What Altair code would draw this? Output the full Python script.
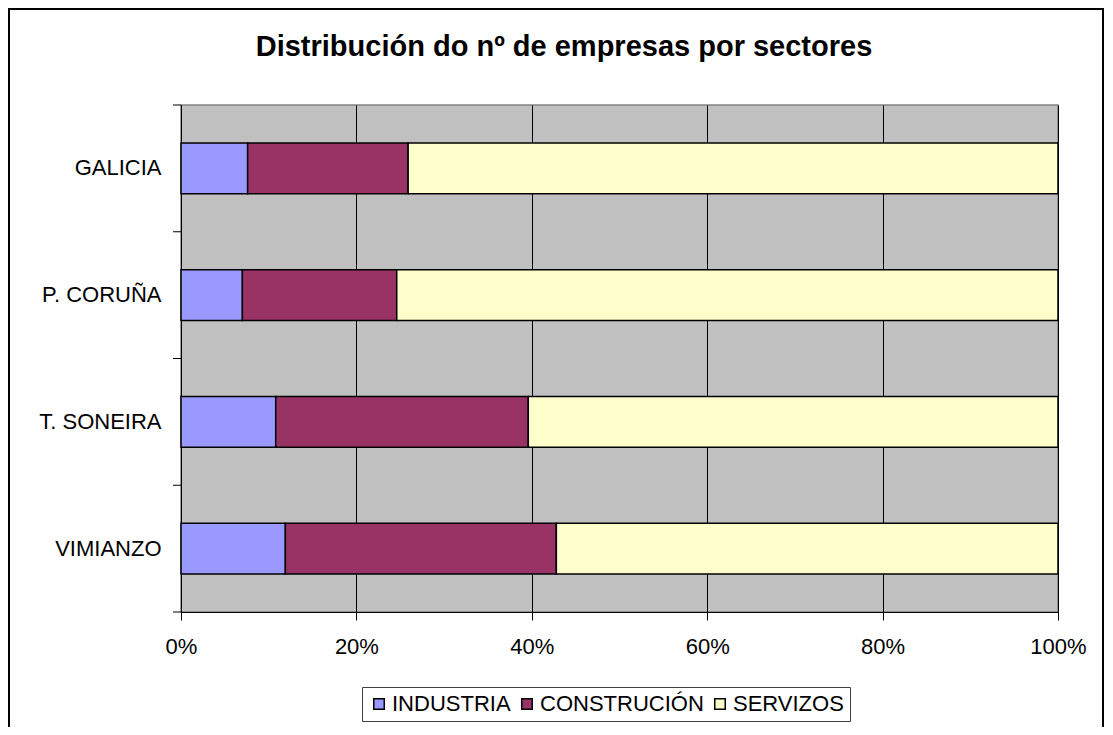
import altair as alt
import pandas as pd

regions = ["GALICIA", "P. CORUÑA", "T. SONEIRA", "VIMIANZO"]
sectors = ["INDUSTRIA", "CONSTRUCIÓN", "SERVIZOS"]
industria = [7.6, 7.0, 10.8, 11.9]
construcion = [18.3, 17.6, 28.8, 30.9]
servizos = [74.1, 75.4, 60.4, 57.2]
colors = ["#9999FF", "#993366", "#FFFFCC"]
x_ticks = [0, 0.2, 0.4, 0.6, 0.8, 1.0]
title_text = "Distribución do nº de empresas por sectores"

FONT = "Liberation Sans"
W, H = 877, 507

rows = []
for i, r in enumerate(regions):
    for k, (s, vals) in enumerate(zip(sectors, [industria, construcion, servizos])):
        rows.append({"region": r, "sector": s, "value": vals[i], "ord": k})
df = pd.DataFrame(rows)

bars = alt.Chart(df).mark_bar(stroke="black", strokeWidth=1.5).encode(
    x=alt.X("value:Q", stack="normalize",
            scale=alt.Scale(domain=[0, 1], nice=False),
            axis=alt.Axis(title=None, format="%", values=x_ticks, tickSize=8,
                          labelPadding=16, labelFlush=False, grid=True,
                          gridColor="black", gridWidth=1, domainColor="black",
                          tickColor="black", labelFontSize=22, labelFont=FONT,
                          labelColor="black")),
    y=alt.Y("region:N", sort=regions,
            scale=alt.Scale(paddingInner=0.6, paddingOuter=0.3),
            axis=alt.Axis(title=None, ticks=False, labelPadding=20,
                          domainColor="black", labelFontSize=22, labelFont=FONT,
                          labelColor="black", labelLimit=400)),
    color=alt.Color("sector:N", sort=sectors,
                    scale=alt.Scale(domain=sectors, range=colors),
                    legend=alt.Legend(orient="none", legendX=181, legendY=582,
                                      direction="horizontal", title=None,
                                      symbolType="square", symbolSize=110,
                                      symbolStrokeColor="black", symbolStrokeWidth=1.5,
                                      symbolOpacity=1, labelFontSize=22,
                                      labelFont=FONT, labelColor="black",
                                      labelLimit=400, labelOffset=2,
                                      columnPadding=5, padding=6,
                                      strokeColor="#404040", fillColor="white")),
    order=alt.Order("ord:Q"),
)

bounds = pd.DataFrame({"b": list(range(len(regions) + 1))})
ticks = alt.Chart(bounds).mark_rule(color="black", strokeWidth=1).encode(
    y=alt.Y("b:Q", scale=alt.Scale(domain=[0, len(regions)], nice=False, zero=False), axis=None),
    x=alt.value(-8),
    x2=alt.value(0),
)

one = pd.DataFrame({"t": [title_text]})
title = alt.Chart(one).mark_text(font=FONT, fontSize=29, fontWeight="bold",
                                 color="black", align="center",
                                 baseline="alphabetic").encode(
    text="t:N", x=alt.value(383), y=alt.value(-49))

frame = alt.Chart(one).mark_rect(fill=None, stroke="black", strokeWidth=2).encode(
    x=alt.value(-172), x2=alt.value(922), y=alt.value(-96), y2=alt.value(640))

chart = alt.layer(bars, ticks, title, frame).resolve_scale(y="independent").properties(
    width=W, height=H,
    autosize=alt.AutoSizeParams(type="none"),
    padding={"left": 173, "top": 97, "right": 46, "bottom": 115},
).configure_view(fill="#C0C0C0", stroke="#808080", strokeWidth=1.5)

chart.save("out.html", embed_options={"renderer": "svg", "actions": False})
